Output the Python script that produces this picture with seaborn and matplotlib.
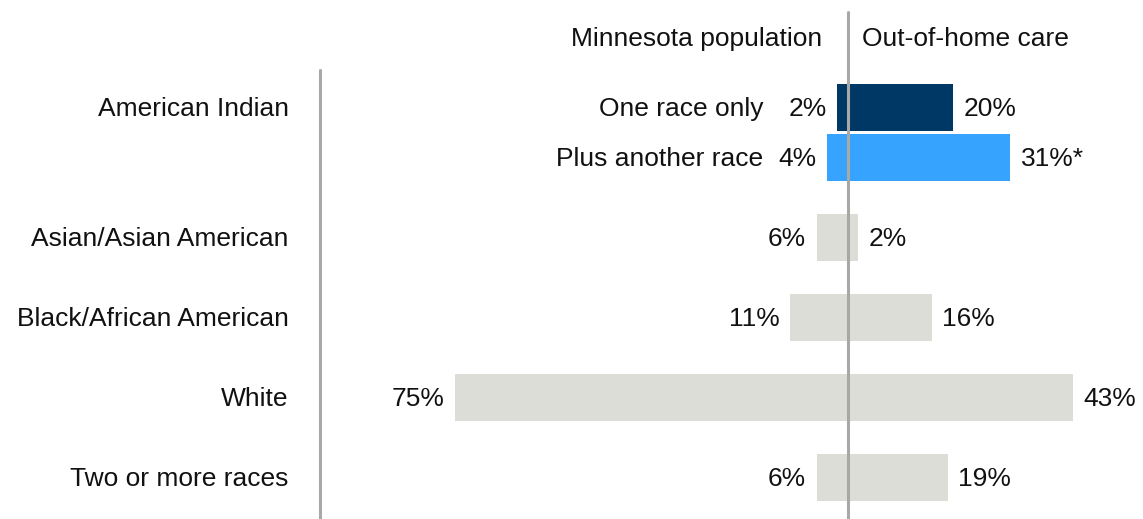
import pandas as pd
import seaborn as sns
import matplotlib.pyplot as plt

# data
row_labels = ["One race only", "Plus another race", "Asian/Asian American",
              "Black/African American", "White", "Two or more races"]
mn_population = [2, 4, 6, 11, 75, 6]
out_of_home = [20, 31, 2, 16, 43, 19]
out_of_home_text = ["20%", "31%*", "2%", "16%", "43%", "19%"]
side_headers = ["Minnesota population", "Out-of-home care"]
group_label = "American Indian"

# layout
row_pos = [0.375, 1.0, 2, 3, 4, 5]
bar_colors = ["#003865", "#36A3FF", "#DDDDD8", "#DDDDD8", "#DDDDD8", "#DDDDD8"]
line_color = "#A8A8A4"
text_color = "#111111"


def main():
    sns.set_style("white")
    plt.rcParams['font.family'] = ['Liberation Sans', 'DejaVu Sans']

    df = pd.DataFrame({
        "row": row_labels,
        "pos": row_pos,
        "mn": mn_population,
        "ooh": out_of_home,
    })
    df["mn_neg"] = -df["mn"]
    palette = dict(zip(row_labels, bar_colors))

    fig = plt.figure(figsize=(11.43, 5.19), dpi=100)
    ax = fig.add_axes([0, 0, 1, 1])

    bar_kw = dict(data=df, y="pos", hue="row", palette=palette, orient="y",
                  native_scale=True, dodge=False, width=0.94, legend=False,
                  saturation=1, linewidth=0, ax=ax)
    sns.barplot(x="mn_neg", **bar_kw)
    sns.barplot(x="ooh", **bar_kw)

    ax.set_xlim(-161.8, 56.3)
    ax.set_ylim(5.525, -0.9625)
    ax.axis("off")

    fs = 19
    gap = 2.0
    for i, row in df.iterrows():
        y = row["pos"] + 0.02
        ax.text(-row["mn"] - gap, y, f"{row['mn']}%", ha="right",
                va="center", fontsize=fs, color=text_color)
        ax.text(row["ooh"] + gap, y, out_of_home_text[i], ha="left",
                va="center", fontsize=fs, color=text_color)
        if i < 2:
            ax.text(-16.2, y, row["row"], ha="right", va="center",
                    fontsize=fs, color=text_color)
        else:
            ax.text(-106.7, y, row["row"], ha="right", va="center",
                    fontsize=fs, color=text_color)
    ax.text(-106.7, row_pos[0] + 0.02, group_label, ha="right", va="center",
            fontsize=fs, color=text_color)

    ax.text(-5.0, -0.47, side_headers[0], ha="right", va="center",
            fontsize=fs, color=text_color)
    ax.text(2.7, -0.47, side_headers[1], ha="left", va="center",
            fontsize=fs, color=text_color)

    ax.axvline(0, ymin=0, ymax=0.977, color=line_color, lw=2.2, zorder=5)
    ax.axvline(-100.8, ymin=0, ymax=0.865, color=line_color, lw=2.2, zorder=5)

    fig.savefig("out.png", dpi=100)
    plt.close("all")


if __name__ == "__main__":
    main()
